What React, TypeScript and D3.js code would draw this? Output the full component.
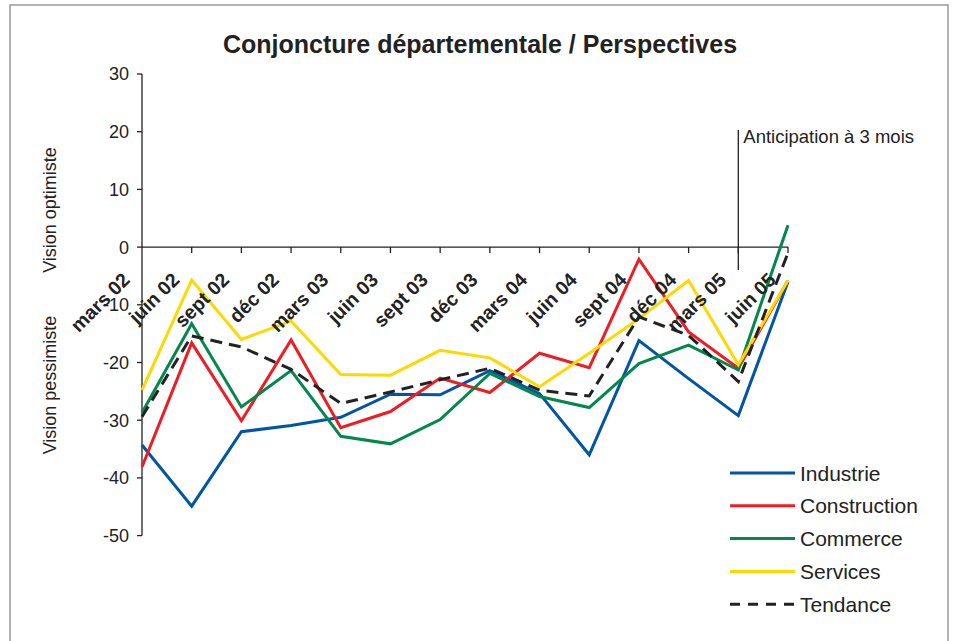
import React from "react";
import * as d3 from "d3";

const categories = [
  "mars 02", "juin 02", "sept 02", "déc 02", "mars 03", "juin 03", "sept 03",
  "déc 03", "mars 04", "juin 04", "sept 04", "déc 04", "mars 05", "juin 05",
];

const industrie = [-34.3, -44.9, -32.0, -30.9, -29.5, -25.5, -25.6, -21.4, -25.4, -36.0, -16.2, -22.8, -29.2, -6.0];
const construction = [-38.1, -16.6, -30.1, -16.1, -31.3, -28.5, -22.7, -25.2, -18.4, -20.9, -2.1, -14.7, -21.0, -5.8];
const commerce = [-28.7, -13.3, -27.7, -21.4, -32.8, -34.1, -29.9, -21.9, -25.9, -27.8, -20.2, -17.0, -21.3, 3.8];
const services = [-24.8, -5.7, -16.0, -12.8, -22.1, -22.2, -17.9, -19.2, -24.2, -18.4, -12.4, -5.8, -20.4, -5.8];
const tendance = [-29.4, -15.4, -17.3, -21.2, -27.1, -25.1, -23.0, -21.0, -24.8, -25.8, -12.1, -15.3, -23.3, -1.0];

const yTicks = [30, 20, 10, 0, -10, -20, -30, -40, -50];

const seriesNames = ["Industrie", "Construction", "Commerce", "Services", "Tendance"];
const seriesData = [industrie, construction, commerce, services, tendance];
const seriesColors = ["#0055A4", "#EE1D23", "#00894A", "#FFD800", "#222222"];

const title = "Conjoncture départementale / Perspectives";
const annotation = "Anticipation à 3 mois";

export default function App() {
  const W = 954;
  const H = 641;
  const x0 = 142;
  const x1 = 788;
  const x = d3.scaleLinear().domain([0, categories.length - 1]).range([x0, x1]);
  const y = d3.scaleLinear().domain([-50, 30]).range([535.6, 74]);
  const axisY = y(0);
  const font = "'Liberation Sans', Arial, Helvetica, sans-serif";

  const line = d3
    .line<number>()
    .x((_, i) => x(i))
    .y((d) => y(d));

  const annIdx = 12;

  return (
    <svg
      width={W}
      height={H}
      style={{ position: "absolute", left: 0, top: 0, background: "#fff" }}
      fontFamily={font}
    >
      <rect x={0} y={0} width={W} height={H} fill="#fff" />
      <rect x={10} y={5} width={938} height={650} fill="none" stroke="#999" strokeWidth={1.5} />

      <text x={480} y={53} textAnchor="middle" fontSize={25} fontWeight="bold" fill="#222">
        {title}
      </text>

      {/* Y axis */}
      <line x1={x0} x2={x0} y1={y(30)} y2={y(-50)} stroke="#222" strokeWidth={1.3} />
      {yTicks.map((t) => (
        <g key={t}>
          <line x1={x0 - 5} x2={x0} y1={y(t)} y2={y(t)} stroke="#222" strokeWidth={1.3} />
          <text x={129} y={y(t)} dy="0.36em" textAnchor="end" fontSize={18} fill="#222">
            {t}
          </text>
        </g>
      ))}

      {/* Axis titles */}
      <text
        transform={`translate(56,${210}) rotate(-90)`}
        textAnchor="middle"
        fontSize={18}
        fill="#222"
      >
        Vision optimiste
      </text>
      <text
        transform={`translate(56,${385}) rotate(-90)`}
        textAnchor="middle"
        fontSize={18}
        fill="#222"
      >
        Vision pessimiste
      </text>

      {/* X axis */}
      <line x1={x0} x2={x1} y1={axisY} y2={axisY} stroke="#222" strokeWidth={1.3} />
      {categories.map((c, i) =>
        i === 0 ? null : (
          <line key={c} x1={x(i)} x2={x(i)} y1={axisY} y2={axisY + 6} stroke="#222" strokeWidth={1.3} />
        )
      )}

      {/* Annotation line */}
      <line x1={x(annIdx)} x2={x(annIdx)} y1={130} y2={270} stroke="#222" strokeWidth={1.3} />
      <text x={x(annIdx) + 5} y={143} fontSize={18.5} fill="#222">
        {annotation}
      </text>

      {/* Series */}
      {seriesData.map((data, s) => (
        <path
          key={seriesNames[s]}
          d={line(data) || ""}
          fill="none"
          stroke={seriesColors[s]}
          strokeWidth={3}
          strokeLinejoin="miter"
          strokeDasharray={s === 4 ? "12,7" : undefined}
        />
      ))}

      {/* X labels */}
      {categories.map((c, i) => (
        <text
          key={c}
          transform={`translate(${x(i) - 11},${axisY + 34}) rotate(-45)`}
          textAnchor="end"
          fontSize={19.5}
          fontWeight="bold"
          fill="#222"
        >
          {c}
        </text>
      ))}

      {/* Legend */}
      {seriesNames.map((n, i) => {
        const ly = 473 + i * 32.8;
        return (
          <g key={n}>
            <line
              x1={730}
              x2={795}
              y1={ly}
              y2={ly}
              stroke={seriesColors[i]}
              strokeWidth={3}
              strokeDasharray={i === 4 ? "10,8" : undefined}
            />
            <text x={800} y={ly + 7.5} fontSize={21} fill="#222">
              {n}
            </text>
          </g>
        );
      })}
    </svg>
  );
}
